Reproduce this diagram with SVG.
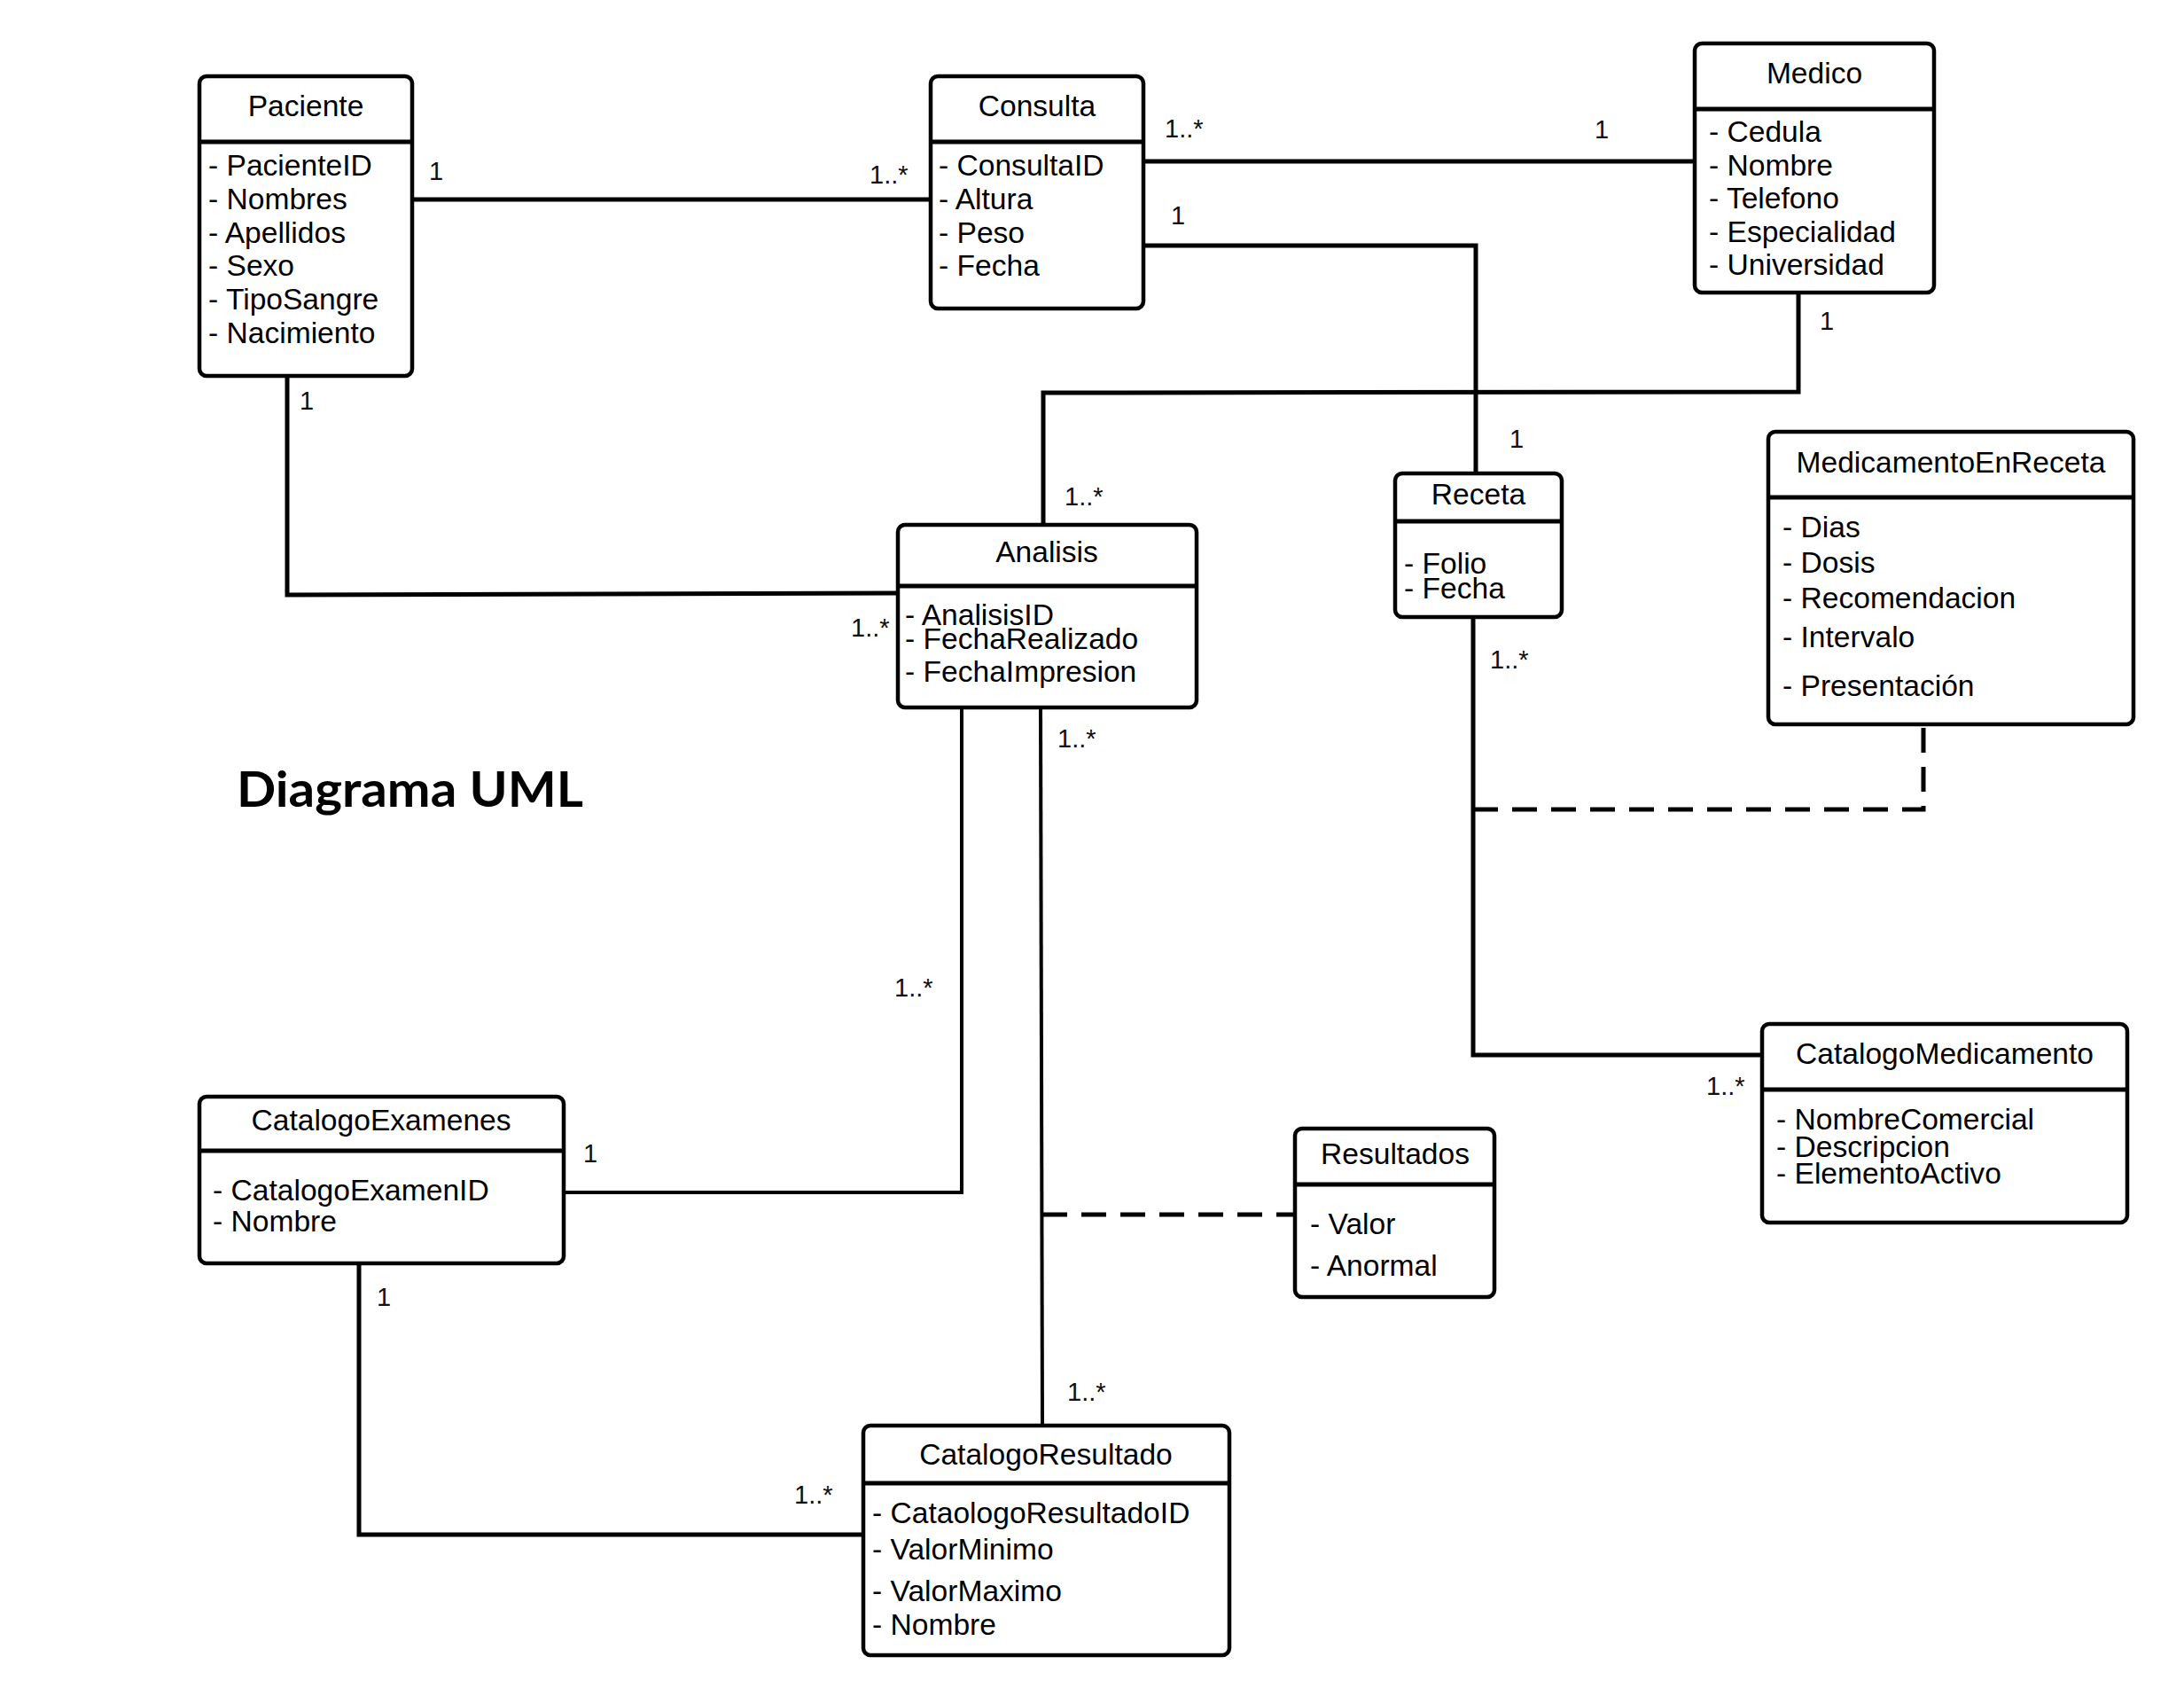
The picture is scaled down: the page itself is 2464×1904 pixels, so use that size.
<svg xmlns="http://www.w3.org/2000/svg" width="2464" height="1904" viewBox="0 0 2464 1904">
<style>
.box{fill:#fff;stroke:#000;stroke-width:4.5}
.div{stroke:#000;stroke-width:5}
.t{font-family:"Liberation Sans",Arial,sans-serif;font-size:33.6px;fill:#000}
.c{text-anchor:middle}
.m{font-family:"Liberation Sans",Arial,sans-serif;font-size:29px;fill:#111}
.ln{fill:none;stroke:#000;stroke-width:5}
.ln2{fill:none;stroke:#000;stroke-width:4}
.dash{fill:none;stroke:#000;stroke-width:5;stroke-dasharray:28 16}
</style>
<rect width="2464" height="1904" fill="#fff"/>
<g id="connectors">
<polyline class="ln" points="465,225 1048,225"/>
<polyline class="ln" points="1290,182 1912,182"/>
<polyline class="ln" points="1290,277 1665,277 1665,533"/>
<polyline class="ln" points="2029,330 2029,442 1177,443 1177,592"/>
<polyline class="ln" points="324,424 324,671 1013,669"/>
<polyline class="ln2" points="1085,798 1085,1345 636,1345"/>
<polyline class="ln2" points="1174,798 1176,1608"/>
<polyline class="ln" points="1662,697 1662,1190 1988,1190"/>
<polyline class="ln" points="405,1425 405,1731 974,1731"/>
<polyline class="dash" points="1662,913 2170,913 2170,817"/>
<polyline class="dash" points="1176,1370 1461,1370"/>
</g>
<g id="labels">
<text class="m" x="484" y="203">1</text>
<text class="m" x="981" y="207">1..*</text>
<text class="m" x="1314" y="155">1..*</text>
<text class="m" x="1799" y="156">1</text>
<text class="m" x="1321" y="253">1</text>
<text class="m" x="2053" y="372">1</text>
<text class="m" x="1703" y="505">1</text>
<text class="m" x="338" y="462">1</text>
<text class="m" x="1201" y="570">1..*</text>
<text class="m" x="960" y="718">1..*</text>
<text class="m" x="1681" y="754">1..*</text>
<text class="m" x="1193" y="843">1..*</text>
<text class="m" x="1009" y="1124">1..*</text>
<text class="m" x="1925" y="1235">1..*</text>
<text class="m" x="658" y="1311">1</text>
<text class="m" x="425" y="1473">1</text>
<text class="m" x="1204" y="1580">1..*</text>
<text class="m" x="896" y="1696">1..*</text>
</g>
<g id="Paciente">
<rect class="box" x="225" y="86" width="240" height="338" rx="8"/>
<line class="div" x1="225" y1="160" x2="465" y2="160"/>
<text class="t c" x="345" y="131">Paciente</text>
<text class="t" x="235" y="198">- PacienteID</text>
<text class="t" x="235" y="236">- Nombres</text>
<text class="t" x="235" y="274">- Apellidos</text>
<text class="t" x="235" y="311">- Sexo</text>
<text class="t" x="235" y="349">- TipoSangre</text>
<text class="t" x="235" y="387">- Nacimiento</text>
</g>
<g id="Consulta">
<rect class="box" x="1050" y="86" width="240" height="262" rx="8"/>
<line class="div" x1="1050" y1="160" x2="1290" y2="160"/>
<text class="t c" x="1170" y="131">Consulta</text>
<text class="t" x="1059" y="198">- ConsultaID</text>
<text class="t" x="1059" y="236">- Altura</text>
<text class="t" x="1059" y="274">- Peso</text>
<text class="t" x="1059" y="311">- Fecha</text>
</g>
<g id="Medico">
<rect class="box" x="1912" y="49" width="270" height="281" rx="8"/>
<line class="div" x1="1912" y1="123" x2="2182" y2="123"/>
<text class="t c" x="2047" y="94">Medico</text>
<text class="t" x="1928" y="160">- Cedula</text>
<text class="t" x="1928" y="198">- Nombre</text>
<text class="t" x="1928" y="235">- Telefono</text>
<text class="t" x="1928" y="273">- Especialidad</text>
<text class="t" x="1928" y="310">- Universidad</text>
</g>
<g id="Receta">
<rect class="box" x="1574" y="534" width="188" height="162" rx="8"/>
<line class="div" x1="1574" y1="588" x2="1762" y2="588"/>
<text class="t c" x="1668" y="569">Receta</text>
<text class="t" x="1584" y="647">- Folio</text>
<text class="t" x="1584" y="675">- Fecha</text>
</g>
<g id="MedicamentoEnReceta">
<rect class="box" x="1995" y="487" width="412" height="330" rx="8"/>
<line class="div" x1="1995" y1="561" x2="2407" y2="561"/>
<text class="t c" x="2201" y="533">MedicamentoEnReceta</text>
<text class="t" x="2011" y="606">- Dias</text>
<text class="t" x="2011" y="646">- Dosis</text>
<text class="t" x="2011" y="686">- Recomendacion</text>
<text class="t" x="2011" y="730">- Intervalo</text>
<text class="t" x="2011" y="785">- Presentación</text>
</g>
<g id="Analisis">
<rect class="box" x="1013" y="592" width="337" height="206" rx="8"/>
<line class="div" x1="1013" y1="661" x2="1350" y2="661"/>
<text class="t c" x="1181" y="634">Analisis</text>
<text class="t" x="1021" y="705">- AnalisisID</text>
<text class="t" x="1021" y="732">- FechaRealizado</text>
<text class="t" x="1021" y="769">- FechaImpresion</text>
</g>
<g id="CatalogoMedicamento">
<rect class="box" x="1988" y="1155" width="412" height="224" rx="8"/>
<line class="div" x1="1988" y1="1229" x2="2400" y2="1229"/>
<text class="t c" x="2194" y="1200">CatalogoMedicamento</text>
<text class="t" x="2004" y="1274">- NombreComercial</text>
<text class="t" x="2004" y="1305">- Descripcion</text>
<text class="t" x="2004" y="1335">- ElementoActivo</text>
</g>
<g id="Resultados">
<rect class="box" x="1461" y="1273" width="225" height="190" rx="8"/>
<line class="div" x1="1461" y1="1336" x2="1686" y2="1336"/>
<text class="t c" x="1574" y="1313">Resultados</text>
<text class="t" x="1478" y="1392">- Valor</text>
<text class="t" x="1478" y="1439">- Anormal</text>
</g>
<g id="CatalogoExamenes">
<rect class="box" x="225" y="1237" width="411" height="188" rx="8"/>
<line class="div" x1="225" y1="1298" x2="636" y2="1298"/>
<text class="t c" x="430" y="1275">CatalogoExamenes</text>
<text class="t" x="240" y="1354">- CatalogoExamenID</text>
<text class="t" x="240" y="1389">- Nombre</text>
</g>
<g id="CatalogoResultado">
<rect class="box" x="974" y="1608" width="413" height="259" rx="8"/>
<line class="div" x1="974" y1="1673" x2="1387" y2="1673"/>
<text class="t c" x="1180" y="1652">CatalogoResultado</text>
<text class="t" x="984" y="1718">- CataologoResultadoID</text>
<text class="t" x="984" y="1759">- ValorMinimo</text>
<text class="t" x="984" y="1806">- ValorMaximo</text>
<text class="t" x="984" y="1844">- Nombre</text>
</g>
<g id="title">
<text x="267" y="910" font-family="Lato,'Open Sans',sans-serif" font-weight="bold" font-size="56" textLength="391" lengthAdjust="spacingAndGlyphs">Diagrama UML</text>
</g>
</svg>
